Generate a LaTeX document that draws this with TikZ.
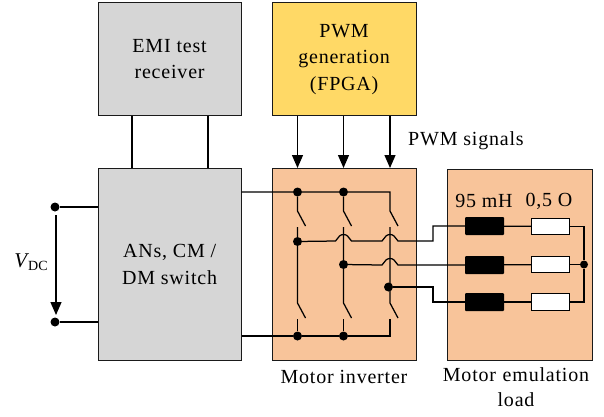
\documentclass[tikz,border=0pt]{standalone}
\usepackage{fontspec}
\setmainfont[LetterSpace=4]{Liberation Serif}
\newfontfamily\plainserif{Liberation Serif}
\usetikzlibrary{arrows.meta}
\definecolor{greybox}{HTML}{D6D6D6}
\definecolor{yellowbox}{HTML}{FFD966}
\definecolor{orangebox}{HTML}{F8C49A}
\definecolor{lineblack}{HTML}{1A1A1A}
\tikzset{
  x=1pt,y=-1pt,
  blockbox/.style={draw=lineblack,line width=1.2pt,anchor=north west,inner sep=0pt,align=center,font=\fontsize{20}{26.5}\selectfont},
  wire/.style={draw=black,line width=1.25pt},
  junction/.style={circle,fill=black,inner sep=0pt,minimum size=9pt},
  inductor/.style={fill=black,rounded corners=1pt,minimum width=39pt,minimum height=18pt,inner sep=0pt},
  resistor/.style={draw=black,fill=white,line width=1.2pt,minimum width=38pt,minimum height=16.5pt,inner sep=0pt},
  label/.style={font=\fontsize{20}{25}\selectfont,inner sep=0pt,align=center},
  tip/.style={-{Triangle[length=13pt,width=11pt]}},
}
\newcommand{\hopover}[2]{-- (#1-8,#2) -- (#1-4,#2-5) .. controls (#1-2,#2-7) and (#1+2,#2-7) .. (#1+4,#2-5) -- (#1+8,#2)}
\begin{document}
\begin{tikzpicture}
\useasboundingbox (0,0) rectangle (604,416);
% blocks
\node[blockbox,fill=greybox,minimum width=143pt,minimum height=113pt] (emi) at (97.5,2) {EMI test\\receiver};
\node[blockbox,fill=yellowbox,minimum width=144pt,minimum height=113pt] (pwm) at (271.5,2) {PWM\\generation\\(FPGA)};
\node[blockbox,fill=greybox,minimum width=143pt,minimum height=192pt] (an) at (97.5,168) {ANs, CM /\\DM switch};
\node[blockbox,fill=orangebox,minimum width=144pt,minimum height=192pt] (inv) at (271.5,168) {};
\node[blockbox,fill=orangebox,minimum width=145pt,minimum height=191pt] (load) at (446.5,169) {};
% EMI to AN
\draw[wire] (emi.south -| 132,0) -- (an.north -| 132,0);
\draw[wire] (emi.south -| 208,0) -- (an.north -| 208,0);
% junctions
\node[junction] (vp) at (55,207) {};
\node[junction] (vn) at (55,322) {};
\node[junction] (t1) at (297.5,192) {};
\node[junction] (t2) at (343.5,192) {};
\node[junction] (b1) at (297.5,336) {};
\node[junction] (b2) at (343.5,336) {};
\node[junction] (m1) at (297.5,241.5) {};
\node[junction] (m2) at (343.5,264.5) {};
\node[junction] (m3) at (388.5,287) {};
\node[junction,minimum size=8pt] (star) at (584,264.5) {};
\coordinate (t3) at (390,192);
\coordinate (b3) at (390,336);
% DC side
\draw[wire] (vp) -- (an.west |- vp);
\draw[wire] (vn) -- (an.west |- vn);
\coordinate (vs) at (56,215);
\coordinate (ve) at (56,315);
\draw[wire,tip] (vs) -- (ve);
\node[inner sep=0pt,anchor=center] (vdc) at (31,262) {\plainserif\fontsize{21}{25}\selectfont\itshape V\kern1pt\raisebox{-3pt}{\upshape\fontsize{14}{16}\selectfont DC}};
% rails
\draw[wire] (an.east |- t1) -- (t1) -- (t2) -- (t3) -- (390,211) -- (398,226);
\draw[wire] (an.east |- b1) -- (b1) -- (b2) -- (b3) -- (390,319);
% PWM arrows
\draw[wire,tip] (pwm.south -| t1) -- (inv.north -| t1);
\draw[wire,tip] (pwm.south -| t2) -- (inv.north -| t2);
\draw[wire,tip] (pwm.south -| t3) -- (inv.north -| t3);
\node[label,anchor=west] (sig) at (408,141) {PWM signals};
% switches col 1
\draw[wire] (t1) -- (297.5,211) -- (305.5,226);
\draw[wire] (297.5,227) -- (m1) -- (297.5,303) -- (305.5,318);
\draw[wire] (297.5,319) -- (b1);
% col 2
\draw[wire] (t2) -- (343.5,211) -- (351.5,226);
\draw[wire] (343.5,227) -- (m2) -- (343.5,303) -- (351.5,318);
\draw[wire] (343.5,319) -- (b2);
% col 3
\draw[wire] (390,227) -- (390,303) -- (398,318);
% load components
\node[inductor] (l1) at (484.5,226) {};
\node[inductor] (l2) at (484.5,265) {};
\node[inductor] (l3) at (484.5,302) {};
\node[resistor] (r1) at (550.5,226.5) {};
\node[resistor] (r2) at (550.5,264.5) {};
\node[resistor] (r3) at (550.5,302) {};
% phase wires
\draw[wire] (m1) \hopover{343.5}{241} \hopover{390}{241} -- (433,241) -- (433,226) -- (l1);
\draw[wire] (m2) \hopover{390}{265} -- (l2);
\draw[wire] (m3) -- (433,287) -- (433,302) -- (l3);
\draw[wire] (l1) -- (r1);
\draw[wire] (l2) -- (r2);
\draw[wire] (l3) -- (r3);
\draw[wire] (r1) -- (584,226.5) -- (star);
\draw[wire] (r2) -- (star);
\draw[wire] (r3) -- (584,302) -- (star);
% labels
\node[label] (lh) at (484,201) {95 mH};
\node[label] (lo) at (549,201) {0,5 O};
\node[label] (invl) at (344,377) {Motor inverter};
\node[label,text width=170pt] (loadl) at (516,387) {Motor emulation\\load};
\end{tikzpicture}
\end{document}
